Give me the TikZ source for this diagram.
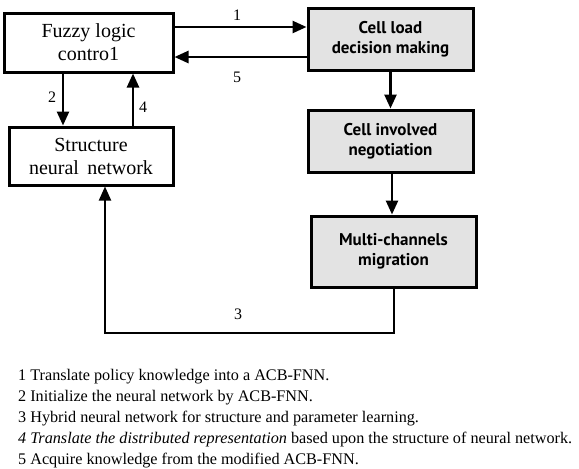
\documentclass[tikz,border=0pt]{standalone}
\usepackage{fontspec}
\setmainfont{Liberation Serif}
\newfontfamily\boxsans{PT Sans}
\usetikzlibrary{arrows.meta}
\begin{document}
\begin{tikzpicture}[x=1pt,y=-1pt,
  serifbox/.style={draw,line width=3pt,inner sep=0pt,font=\fontsize{20}{23}\selectfont,align=center},
  sansbox/.style={draw,line width=3pt,inner sep=0pt,fill=black!11,font=\boxsans\bfseries\fontsize{17}{20}\selectfont,align=center},
  arr/.style={line width=2.6pt,-{Triangle[length=14pt,width=12pt]}},
  loopline/.style={line width=2pt,-{Triangle[length=14pt,width=12pt]}},
  lbl/.style={font=\fontsize{16}{18}\selectfont,inner sep=0pt},
  legend/.style={font=\fontsize{16.2}{18}\selectfont,anchor=west,inner sep=0pt}]
\useasboundingbox (0,0) rectangle (579,469);
\node[serifbox,minimum width=169pt,minimum height=59pt] (fuzzy) at (88.5,42.5) {Fuzzy logic\\contro1};
\node[serifbox,minimum width=164pt,minimum height=58pt] (snn) at (91,156) {Structure\\neural\, network};
\node[sansbox,minimum width=165pt,minimum height=62pt] (load) at (390.5,39) {Cell load\\decision making};
\node[sansbox,minimum width=165pt,minimum height=62pt] (inv) at (390.5,141) {Cell involved\\negotiation};
\node[sansbox,minimum width=165pt,minimum height=71pt] (multi) at (393.5,251.5) {Multi-channels\\migration};
\coordinate (c3) at (105,333);
\draw[arr] (fuzzy.east |- 0,27) -- (load.west |- 0,27);
\draw[arr] (load.west |- 0,57) -- (fuzzy.east |- 0,57);
\draw[arr] (fuzzy.south -| 63,0) -- (snn.north -| 63,0);
\draw[arr] (snn.north -| 133,0) -- (fuzzy.south -| 133,0);
\draw[arr] (load.south) -- (inv.north);
\draw[arr] ([xshift=1.5pt]inv.south) -- ([xshift=-1.5pt]multi.north);
\draw[loopline] (multi.south) |- (c3) -- (snn.south -| c3);
\node[lbl] (l1) at (237,15) {1};
\node[lbl] (l5) at (237,77) {5};
\node[lbl] (l2) at (52,97) {2};
\node[lbl] (l4) at (143,107) {4};
\node[lbl] (l3) at (238,314) {3};
\node[legend] (g1) at (18,377) {1 Translate policy knowledge into a ACB-FNN.};
\node[legend] (g2) at (18,398) {2 Initialize the neural network by ACB-FNN.};
\node[legend] (g3) at (18,419) {3 Hybrid neural network for structure and parameter learning.};
\node[legend] (g4) at (18,440) {\itshape 4 Translate the distributed representation\upshape{} based upon the structure of neural network.};
\node[legend] (g5) at (18,461) {5 Acquire knowledge from the modified ACB-FNN.};
\end{tikzpicture}
\end{document}
